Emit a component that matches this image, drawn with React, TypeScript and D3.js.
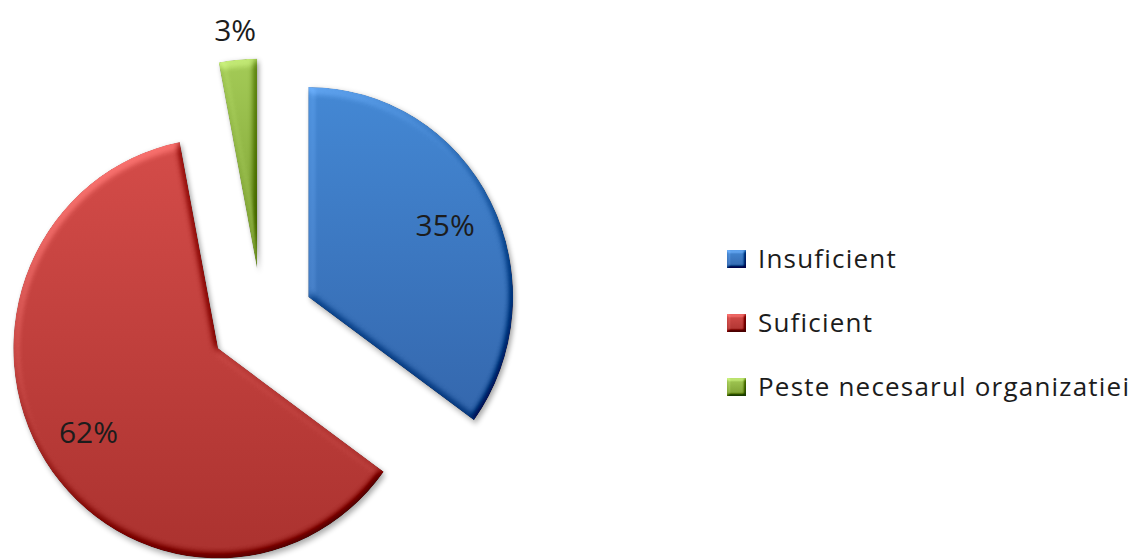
import React from "react";
import * as d3 from "d3";

const categories = ["Insuficient", "Suficient", "Peste necesarul organizatiei"];
const values = [35, 62, 3];
const percentLabels = ["35%", "62%", "3%"];
const colorsTop = ["#4488d4", "#d44c49", "#a4cb57"];
const colorsBottom = ["#3467ad", "#ab322f", "#7a9d30"];

const W = 1145;
const H = 559;
const CX = 262;
const CY = 320.5;
const R = 210;
const SX = 0.975;
const EXPLODE = 52;
const FONT = "'Open Sans', 'Noto Sans', sans-serif";

export default function App() {
  const pie = d3
    .pie<number>()
    .sort(null)
    .value((d) => d)
    .startAngle(0)
    .endAngle(2 * Math.PI);
  const arcs = pie(values);
  const arc = d3.arc<d3.PieArcDatum<number>>().innerRadius(0).outerRadius(R);

  const legendX = 727;
  const legendY0 = 268;
  const legendStep = 64;

  return (
    <svg
      width={W}
      height={H}
      viewBox={`0 0 ${W} ${H}`}
      style={{ position: "absolute", left: 0, top: 0, background: "#fff" }}
    >
      <defs>
        {categories.map((c, i) => (
          <linearGradient key={c} id={`g${i}`} x1="0" y1="0" x2="0" y2="1">
            <stop offset="0%" stopColor={colorsTop[i]} />
            <stop offset="100%" stopColor={colorsBottom[i]} />
          </linearGradient>
        ))}
        <filter
          id="bevel"
          x="-15%"
          y="-15%"
          width="140%"
          height="140%"
          colorInterpolationFilters="sRGB"
        >
          <feGaussianBlur in="SourceAlpha" stdDeviation="4" result="blur" />
          <feDiffuseLighting
            in="blur"
            surfaceScale="5"
            diffuseConstant="1"
            lightingColor="#ffffff"
            result="light"
          >
            <feDistantLight azimuth="235" elevation="45" />
          </feDiffuseLighting>
          <feComposite
            in="SourceGraphic"
            in2="light"
            operator="arithmetic"
            k1="0"
            k2="1"
            k3="0.5"
            k4="-0.354"
            result="lit"
          />
          <feComposite in="lit" in2="SourceAlpha" operator="in" result="litClip" />
          <feGaussianBlur in="SourceAlpha" stdDeviation="3" result="sb" />
          <feOffset in="sb" dx="2" dy="3" result="so" />
          <feComponentTransfer in="so" result="shadow">
            <feFuncA type="linear" slope="0.35" />
          </feComponentTransfer>
          <feMerge>
            <feMergeNode in="shadow" />
            <feMergeNode in="litClip" />
          </feMerge>
        </filter>
        <filter
          id="bevelSmall"
          x="-20%"
          y="-20%"
          width="150%"
          height="150%"
          colorInterpolationFilters="sRGB"
        >
          <feGaussianBlur in="SourceAlpha" stdDeviation="1.6" result="blur" />
          <feDiffuseLighting
            in="blur"
            surfaceScale="3"
            diffuseConstant="1"
            lightingColor="#ffffff"
            result="light"
          >
            <feDistantLight azimuth="235" elevation="45" />
          </feDiffuseLighting>
          <feComposite
            in="SourceGraphic"
            in2="light"
            operator="arithmetic"
            k1="0"
            k2="1"
            k3="0.55"
            k4="-0.389"
            result="lit"
          />
          <feComposite in="lit" in2="SourceAlpha" operator="in" />
        </filter>
      </defs>

      {arcs.map((a, i) => {
        const mid = (a.startAngle + a.endAngle) / 2;
        const ox = CX + EXPLODE * Math.sin(mid);
        const oy = CY - EXPLODE * Math.cos(mid);
        const small = a.data / d3.sum(values) < 0.05;
        const lr = small ? R + 29 : R * 0.75;
        const lx = SX * lr * Math.sin(mid);
        const ly = -lr * Math.cos(mid);
        return (
          <g key={categories[i]} transform={`translate(${ox},${oy})`}>
            <path
              d={arc(a) || ""}
              transform={`scale(${SX},1)`}
              fill={`url(#g${i})`}
              filter="url(#bevel)"
            />
            <text
              x={lx}
              y={ly}
              dy="0.35em"
              textAnchor="middle"
              fontFamily={FONT}
              fontSize={30}
              fill="#1c1c1c"
            >
              {percentLabels[i]}
            </text>
          </g>
        );
      })}

      {categories.map((c, i) => (
        <g key={c} transform={`translate(${legendX},${legendY0 + i * legendStep})`}>
          <rect
            x={0}
            y={-18}
            width={19}
            height={18}
            fill={`url(#g${i})`}
            filter="url(#bevelSmall)"
          />
          <text
            x={31}
            y={0}
            fontFamily={FONT}
            fontSize={26}
            letterSpacing={1.2}
            fill="#1c1c1c"
          >
            {c}
          </text>
        </g>
      ))}
    </svg>
  );
}
